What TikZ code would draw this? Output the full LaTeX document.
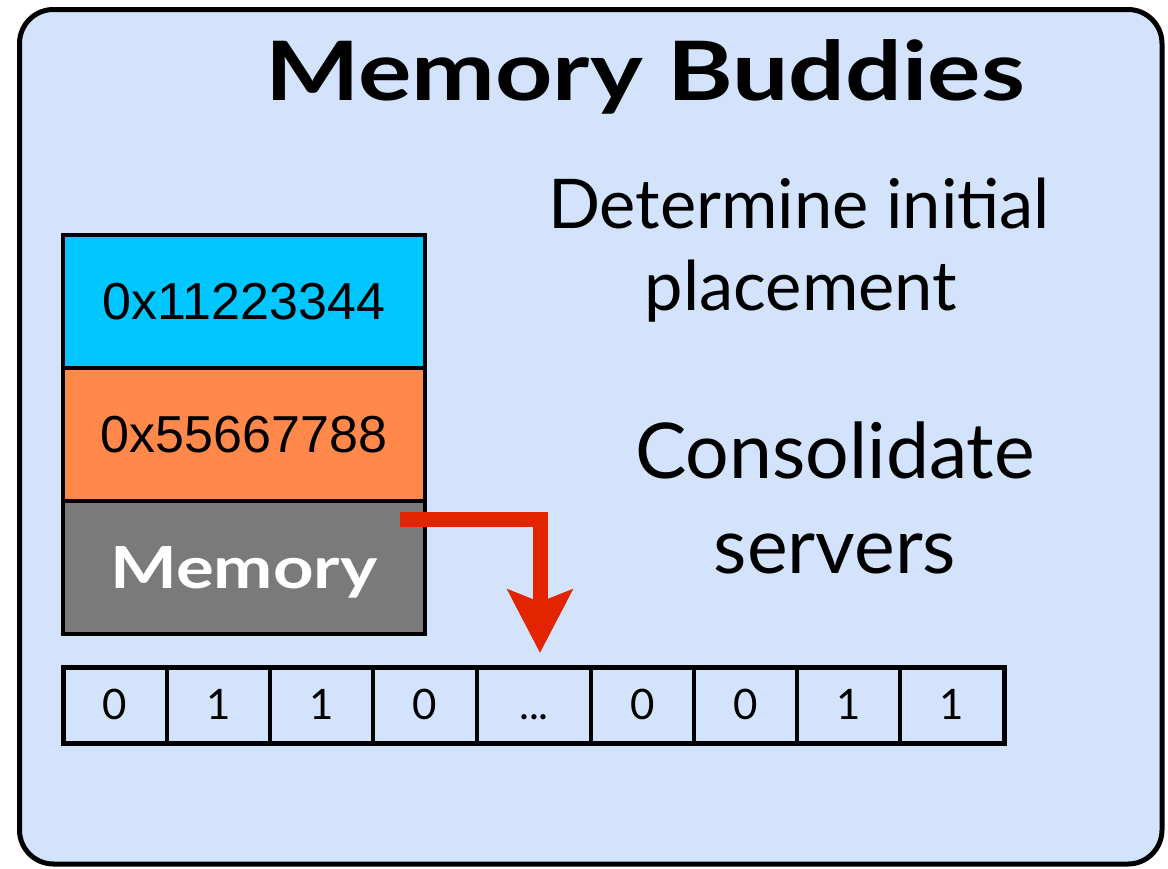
\documentclass[tikz,border=0pt]{standalone}
\usepackage{fontspec}
\setmainfont{Lato}
\newfontfamily\hexfont{Liberation Sans}
\newfontfamily\widefont{Lato}[FakeStretch=1.22]
\usetikzlibrary{arrows.meta,positioning}
\definecolor{panelblue}{RGB}{212,227,252}
\definecolor{slotcyan}{RGB}{0,199,255}
\definecolor{slotorange}{RGB}{255,136,74}
\definecolor{slotgray}{RGB}{122,122,122}
\definecolor{arrowred}{RGB}{226,36,0}
\newcommand{\gapmark}{...}

\begin{document}
\begin{tikzpicture}[
    x=0.5pt, y=-0.5pt,
    slot/.style={rectangle, draw, line width=2pt, inner sep=0pt, outer sep=0pt, minimum width=181pt, minimum height=66.5pt},
    hexslot/.style={slot, font=\fontsize{26pt}{30pt}\selectfont},
    bitcell/.style={rectangle, draw, line width=1.6pt, inner sep=0pt, outer sep=0pt, minimum height=38pt,
        text height=14.5pt, text depth=0pt, font=\fontsize{21pt}{25pt}\selectfont},
    sidetext/.style={anchor=base, inner sep=0pt, font=\fontsize{34.3pt}{40pt}\selectfont},
    bigtext/.style={anchor=base, inner sep=0pt, font=\fontsize{38.5pt}{44pt}\selectfont}
]
    \useasboundingbox (0,0) rectangle (1168,868);

    % Panel
    \draw[line width=2.5pt, fill=panelblue, rounded corners=17pt] (19.5,9.5) rectangle (1162,864);
    \node[anchor=base, inner sep=0pt, font=\widefont\bfseries\fontsize{41pt}{48pt}\selectfont] (title) at (645,100) {Memory Buddies};

    % Memory stack
    \node[hexslot, fill=slotcyan] (upper) at (244,301.5) {\hexfont 0x11223344};
    \node[hexslot, fill=slotorange, below=0pt of upper] (lower) {\hexfont 0x55667788};
    \node[slot, fill=slotgray, below=0pt of lower, text=white, text depth=0pt,
        font=\widefont\bfseries\fontsize{29pt}{34pt}\selectfont] (mem) {Memory};

    % Side notes
    \node[sidetext] (det1) at (799,228) {Determine initial};
    \node[sidetext] (det2) at (801,310) {placement};
    \node[bigtext] (con1) at (835,478) {Consolidate};
    \node[bigtext] (con2) at (835,573) {servers};

    % Bit strip
    \foreach \l/\r/\b [count=\i] in {63/167/0, 167/270/1, 270/373/1, 373/477/0, 477/591/\gapmark, 591/694/0, 694/797/0, 797/900/1, 900/1004/1}
        \node[bitcell, minimum width={(\r-\l)*0.5pt}] (bit\i) at ({(\l+\r)/2},705) {\b};
    \draw[line width=2.5pt] (bit1.north west) rectangle (bit9.south east);

    % Arrow
    \draw[arrowred, line width=7.5pt, line join=miter, -{Stealth[length=31.5pt, width=32pt, inset=6pt]}]
        ([xshift=-12.5pt, yshift=-9pt]mem.north east) -| ([xshift=3pt, yshift=7pt]bit5.north);
\end{tikzpicture}
\end{document}
